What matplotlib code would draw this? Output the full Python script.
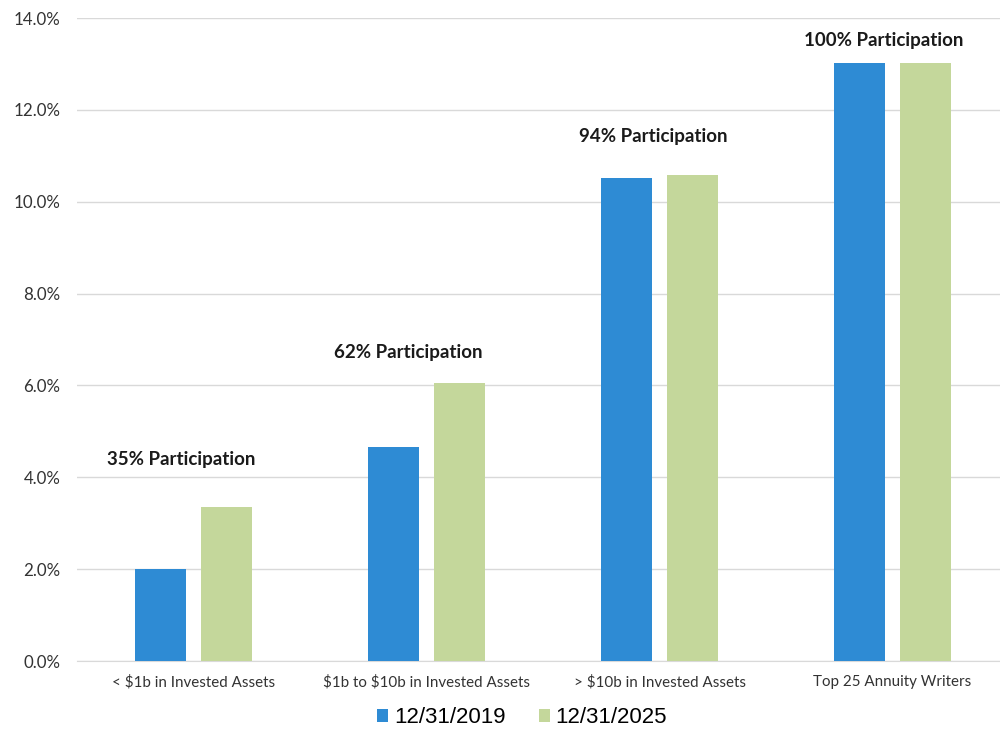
import numpy as np
import matplotlib
matplotlib.use("Agg")
import matplotlib.pyplot as plt
from matplotlib.ticker import FuncFormatter

# Data
categories = ["< \\$1b in Invested Assets", "\\$1b to \\$10b in Invested Assets",
              "> \\$10b in Invested Assets", "Top 25 Annuity Writers"]
series_names = ["12/31/2019", "12/31/2025"]
vals_2019 = [2.0, 4.67, 10.52, 13.02]
vals_2025 = [3.36, 6.06, 10.58, 13.02]
participation = ["35% Participation", "62% Participation",
                 "94% Participation", "100% Participation"]

BLUE = "#2E8BD4"
GREEN = "#C4D79B"

fig = plt.figure(figsize=(10, 7.3), dpi=100)
ax = fig.add_axes([0.077, 0.0945, 0.932, 0.8808])

x = np.arange(len(categories))
w = 0.22
off = 0.143
ax.bar(x - off, vals_2019, w, color=BLUE, label=series_names[0], zorder=3)
ax.bar(x + off, vals_2025, w, color=GREEN, label=series_names[1], zorder=3)

# participation notes above each group
note_lift = [1.03, 0.65, 0.83, 0.48]
note_shift = [-0.054, -0.08, -0.027, -0.036]
for i, txt in enumerate(participation):
    top = max(vals_2019[i], vals_2025[i])
    ax.text(x[i] + note_shift[i], top + note_lift[i], txt, ha="center", va="center",
            fontsize=13.5, fontweight="bold", family="Lato", color="#1a1a1a")

ax.set_xlim(-0.5, 3.5)
ax.set_ylim(0, 14)
ax.set_yticks(np.arange(0, 14.1, 2))
ax.yaxis.set_major_formatter(FuncFormatter(lambda v, p: f"{v:.1f}%"))
ax.grid(axis="y", color="#d9d9d9", linewidth=1, zorder=0)
for s in ["top", "right", "left"]:
    ax.spines[s].set_visible(False)
ax.spines["bottom"].set_color("#d9d9d9")
ax.tick_params(axis="both", length=0)
ax.tick_params(axis="y", pad=12)
for lbl in ax.get_yticklabels():
    lbl.set_family("Lato")
    lbl.set_fontsize(12.2)
    lbl.set_color("#333333")
ax.set_xticks(x)
ax.set_xticklabels(categories, family="Lato", fontsize=10.9, color="#333333")
ax.tick_params(axis="x", pad=10)

leg = fig.legend(loc="center", bbox_to_anchor=(0.522, 0.017), ncol=2, frameon=False,
                 prop={"family": "Liberation Sans", "size": 16},
                 handlelength=0.5, handleheight=0.5, handletextpad=0.25,
                 columnspacing=1.5)

fig.savefig("out.png", dpi=100)
